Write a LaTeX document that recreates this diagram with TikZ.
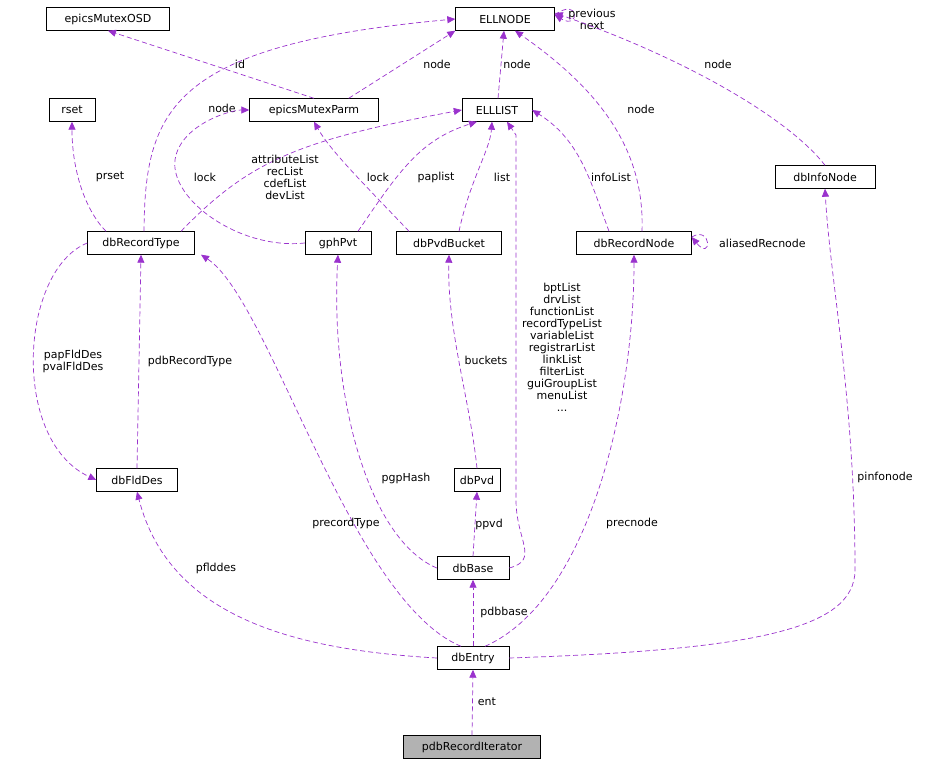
\documentclass[tikz,border=0pt]{standalone}
\usepackage{fontspec}
\setmainfont{DejaVu Sans}
\usetikzlibrary{arrows.meta}
\definecolor{edge}{HTML}{9A32CD}
\begin{document}
\begin{tikzpicture}[x=1pt,y=-1pt,
 box/.style={draw,fill=white,minimum height=23pt,inner xsep=4pt,font=\fontsize{11}{12}\selectfont},
 e/.style={draw=edge,dash pattern=on 5pt off 3pt,-{Triangle[fill=edge,length=8pt,width=7pt]},line width=0.7pt},
 lb/.style={font=\fontsize{11}{12}\selectfont,align=center,inner sep=1pt}]
\useasboundingbox (0,0) rectangle (931,767);
\node[box,minimum width=123pt] (osd) at (108,19) {epicsMutexOSD};
\node[box,minimum width=99pt] (ellnode) at (505,19) {ELLNODE};
\node[box,minimum width=46pt] (rset) at (72,110) {rset};
\node[box,minimum width=129pt] (emp) at (314,110) {epicsMutexParm};
\node[box,minimum width=70pt] (elllist) at (497,110) {ELLLIST};
\node[box,minimum width=100pt] (info) at (825,177) {dbInfoNode};
\node[box,minimum width=107pt] (rt) at (141,243) {dbRecordType};
\node[box,minimum width=66pt] (gph) at (338,243) {gphPvt};
\node[box,minimum width=105pt] (bucket) at (449,243) {dbPvdBucket};
\node[box,minimum width=115pt] (rn) at (634,243) {dbRecordNode};
\node[box,minimum width=81pt] (fld) at (137,480) {dbFldDes};
\node[box,minimum width=46pt] (pvd) at (477,480) {dbPvd};
\node[box,minimum width=72pt] (base) at (473,568) {dbBase};
\node[box,minimum width=72pt] (entry) at (473,658) {dbEntry};
\node[box,minimum width=137pt,fill=black!30] (iter) at (472,747) {pdbRecordIterator};

\draw[e] (emp.north) -- (osd.south);
\node[lb] at (240,64) {id};
\draw[e] (emp.north east) ++(-30,0) -- (ellnode.south west);
\node[lb] at (437,64) {node};
\draw[e] (elllist) -- (ellnode);
\node[lb] at (517,64) {node};
\draw[e] (ellnode.east) ++(0,-4) .. controls (580,-4) and (580,30) .. ([yshift=4]ellnode.east);
\node[lb] at (592,19) {previous\\next};
\draw[e] (rt.north) ++(3,0) .. controls (145,110) and (170,45) .. (ellnode.west);
\node[lb] at (222,108) {node};
\draw[e] (rn.north) ++(8,0) .. controls (645,150) and (600,90) .. ([xshift=10]ellnode.south);
\node[lb] at (641,109) {node};
\draw[e] (info.north) .. controls (790,120) and (690,60) .. ([yshift=6]ellnode.east);
\node[lb] at (718,64) {node};
\draw[e] (rt.north) ++(-35,0) .. controls (85,210) and (72,170) .. (rset.south);
\node[lb] at (110,177) {prset};
\draw[e] (gph.west) .. controls (240,250) and (170,200) .. (175,160) .. controls (180,125) and (230,110) .. (emp.west);
\node[lb] at (205,177) {lock};
\draw[e] (bucket.north) ++(-40,0) .. controls (360,180) and (330,150) .. (emp.south);
\node[lb] at (378,177) {lock};
\draw[e] (rt.north) ++(40,0) .. controls (250,160) and (300,140) .. (elllist.west);
\node[lb] at (285,177) {attributeList\\recList\\cdefList\\devList};
\draw[e] (gph.north) ++(20,0) .. controls (400,170) and (420,140) .. ([xshift=-20]elllist.south);
\node[lb] at (436,177) {paplist};
\draw[e] (bucket.north) ++(10,0) .. controls (470,180) and (490,150) .. ([xshift=-5]elllist.south);
\node[lb] at (502,177) {list};
\draw[e] (rn.north) ++(-25,0) .. controls (590,180) and (580,140) .. (elllist.east);
\node[lb] at (611,177) {infoList};
\draw[e] (base.east) .. controls (540,560) and (516,540) .. (516,500) -- (516,135) -- ([xshift=10]elllist.south);
\node[lb] at (562,347) {bptList\\drvList\\functionList\\recordTypeList\\variableList\\registrarList\\linkList\\filterList\\guiGroupList\\menuList\\...};
\draw[e] (rn.east) ++(0,-6) .. controls (712,225) and (712,262) .. ([yshift=6]rn.east);
\node[lb,anchor=west] at (718,243) {aliasedRecnode};
\draw[e] (rt.west) .. controls (20,270) and (10,440) .. (fld.west);
\node[lb] at (73,361) {papFldDes\\pvalFldDes};
\draw[e] (fld.north) -- (rt.south);
\node[lb] at (190,361) {pdbRecordType};
\draw[e] (base.west) .. controls (370,540) and (330,400) .. (gph.south);
\node[lb] at (406,478) {pgpHash};
\draw[e] (pvd.north) .. controls (470,400) and (447,330) .. (bucket.south);
\node[lb] at (486,360) {buckets};
\draw[e] (base.north) -- (pvd.south);
\node[lb] at (489,524) {ppvd};
\draw[e] (entry.north) ++(-12,0) .. controls (350,600) and (270,300) .. ([xshift=60]rt.south);
\node[lb] at (346,523) {precordType};
\draw[e] (entry.west) .. controls (300,650) and (170,620) .. (fld.south);
\node[lb] at (216,568) {pflddes};
\draw[e] (entry.north) -- (base.south);
\node[lb] at (504,612) {pdbbase};
\draw[e] (entry.north) ++(12,0) .. controls (590,600) and (634,400) .. (rn.south);
\node[lb] at (632,523) {precnode};
\draw[e] (entry.east) .. controls (750,650) and (855,630) .. (855,570) .. controls (855,400) and (830,280) .. (info.south);
\node[lb] at (885,477) {pinfonode};
\draw[e] (iter.north) -- (entry.south);
\node[lb] at (487,702) {ent};
\end{tikzpicture}
\end{document}
